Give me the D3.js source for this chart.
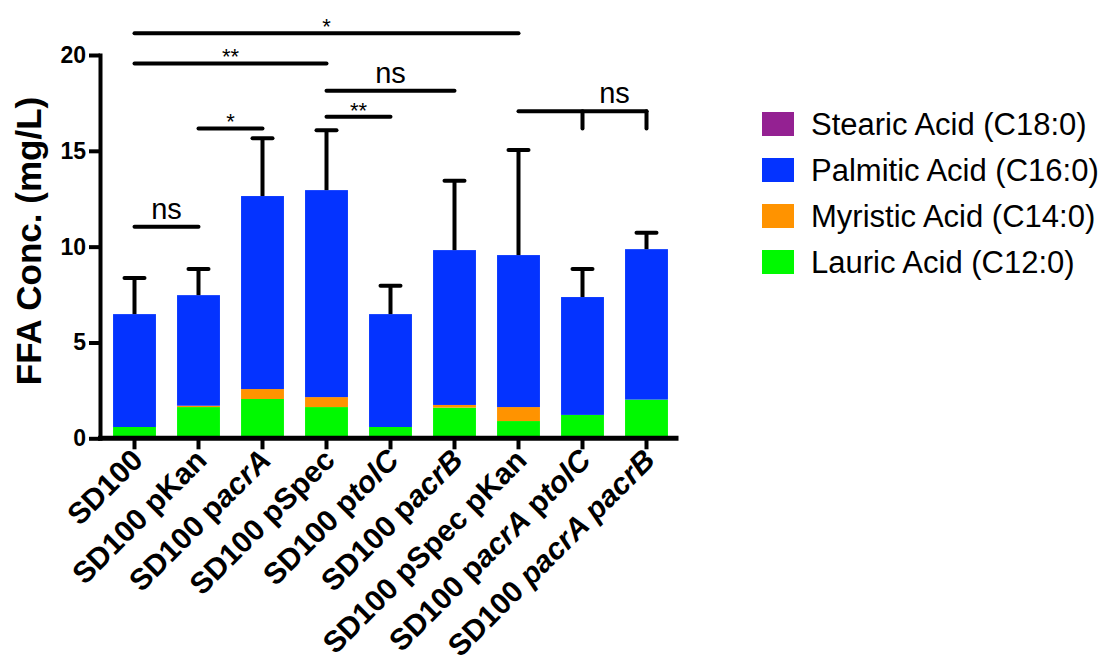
<!DOCTYPE html>
<html>
<head>
<meta charset="utf-8">
<script src="https://cdn.jsdelivr.net/npm/d3@7"></script>
<style>
  body { margin: 0; background: #fff; }
  text { font-family: Arial, "Liberation Sans", sans-serif; fill: #000; }
</style>
</head>
<body>
<svg id="chart" width="1109" height="664"></svg>
<script>
// Strains (category order along the x axis)
const strains = [
  "SD100", "SD100 pKan", "SD100 pacrA", "SD100 pSpec", "SD100 ptolC",
  "SD100 pacrB", "SD100 pSpec pKan", "SD100 pacrA ptolC", "SD100 pacrA pacrB"
];
// Label pieces: [text, italic?]
const strainLabelParts = [
  [["SD100", false]],
  [["SD100 pKan", false]],
  [["SD100 p", false], ["acrA", true]],
  [["SD100 pSpec", false]],
  [["SD100 p", false], ["tolC", true]],
  [["SD100 p", false], ["acrB", true]],
  [["SD100 pSpec pKan", false]],
  [["SD100 p", false], ["acrA", true], [" p", false], ["tolC", true]],
  [["SD100 ", false], ["pacrA pacrB", true]]
];

// Free fatty acid concentrations (mg/L), mean per strain
const lauric   = [0.59, 1.63, 2.05, 1.63, 0.59, 1.60, 0.90, 1.22, 2.02];
const myristic = [0.00, 0.07, 0.52, 0.52, 0.00, 0.14, 0.73, 0.00, 0.00];
const palmitic = [5.89, 5.77, 10.07, 10.80, 5.89, 8.08, 7.93, 6.15, 7.85];
const stearic  = [0.00, 0.00, 0.00, 0.00, 0.00, 0.00, 0.00, 0.00, 0.00];
// Standard deviation of total FFA
const totalSD  = [1.88, 1.36, 3.01, 3.12, 1.48, 3.62, 5.48, 1.46, 0.86];

const yTicks = [0, 5, 10, 15, 20];

const seriesKeys   = ["lauric", "myristic", "palmitic", "stearic"];
const seriesNames  = ["Lauric Acid (C12:0)", "Myristic Acid (C14:0)", "Palmitic Acid (C16:0)", "Stearic Acid (C18:0)"];
const seriesColors = ["#00F900", "#FF9300", "#0433FF", "#942192"];

// Significance comparisons (indices into strains, bracket height in mg/L)
const comparisons = [
  { from: 0, to: 1, level: 11.04, label: "ns" },
  { from: 1, to: 2, level: 16.17, label: "*" },
  { from: 3, to: 4, level: 16.78, label: "**" },
  { from: 3, to: 5, level: 18.13, label: "ns" },
  { from: 0, to: 3, level: 19.56, label: "**" },
  { from: 0, to: 6, level: 21.13, label: "*" },
  { from: 6, to: 8, level: 17.07, label: "ns", drops: [7, 8], dropLevel: 16.17 }
];

const rows = strains.map((s, i) => ({
  strain: s, lauric: lauric[i], myristic: myristic[i], palmitic: palmitic[i], stearic: stearic[i]
}));

const svg = d3.select("#chart");

const x = d3.scaleBand()
  .domain(strains)
  .range([102.5, 678.5])
  .paddingInner(0.33)
  .paddingOuter(0.165);

const y = d3.scaleLinear().domain([0, 20]).range([438.3, 55]);

const color = d3.scaleOrdinal().domain(seriesKeys).range(seriesColors);

const stacked = d3.stack().keys(seriesKeys)(rows);

// Stacked bars
svg.append("g").selectAll("g")
  .data(stacked)
  .join("g")
  .attr("fill", d => color(d.key))
  .selectAll("rect")
  .data(d => d)
  .join("rect")
  .attr("x", d => x(d.data.strain))
  .attr("width", x.bandwidth())
  .attr("y", d => y(d[1]))
  .attr("height", d => Math.max(0, y(d[0]) - y(d[1])));

// Error bars (upper only)
const totals = rows.map((r, i) => lauric[i] + myristic[i] + palmitic[i] + stearic[i]);
const eb = svg.append("g").attr("stroke", "#000").attr("stroke-width", 4);
strains.forEach((s, i) => {
  const cx = x(s) + x.bandwidth() / 2;
  eb.append("line")
    .attr("x1", cx).attr("x2", cx)
    .attr("y1", y(totals[i])).attr("y2", y(totals[i] + totalSD[i]));
  eb.append("line")
    .attr("x1", cx - 10).attr("x2", cx + 10)
    .attr("y1", y(totals[i] + totalSD[i])).attr("y2", y(totals[i] + totalSD[i]))
    .attr("stroke-linecap", "round");
});

// Y axis
const yAxis = svg.append("g")
  .attr("transform", "translate(100,0)")
  .call(d3.axisLeft(y).tickValues(yTicks).tickSize(11).tickSizeOuter(0).tickPadding(3));
yAxis.select(".domain").attr("stroke-width", 4).attr("stroke-linecap", "square");
yAxis.selectAll(".tick line").attr("stroke-width", 4);
yAxis.selectAll(".tick text")
  .style("font-family", "Arial, 'Liberation Sans', sans-serif")
  .style("font-weight", "bold")
  .style("font-size", "23px")
  .attr("fill", "#000");

// X axis
const xAxis = svg.append("g")
  .attr("transform", `translate(0,${y(0)})`)
  .call(d3.axisBottom(x).tickSize(11).tickSizeOuter(0).tickFormat(""));
xAxis.select(".domain").remove();
xAxis.selectAll(".tick line").attr("stroke-width", 4);
svg.append("line")
  .attr("x1", 98).attr("x2", 678.5)
  .attr("y1", y(0)).attr("y2", y(0))
  .attr("stroke", "#000").attr("stroke-width", 5);

// Rotated category labels
strains.forEach((s, i) => {
  const cx = x(s) + x.bandwidth() / 2;
  const t = svg.append("text")
    .attr("transform", `translate(${cx + 10},${462}) rotate(-45)`)
    .attr("text-anchor", "end")
    .style("font-weight", "bold")
    .style("font-size", "30px");
  strainLabelParts[i].forEach(([txt, it]) => {
    t.append("tspan").text(txt).style("font-style", it ? "italic" : "normal");
  });
});

// Y axis title
svg.append("text")
  .attr("transform", `translate(41,241) rotate(-90)`)
  .attr("text-anchor", "middle")
  .style("font-weight", "bold")
  .style("font-size", "35px")
  .text("FFA Conc. (mg/L)");

// Significance brackets
const br = svg.append("g");
const cxOf = i => x(strains[i]) + x.bandwidth() / 2;
comparisons.forEach(c => {
  const ly = y(c.level);
  br.append("line")
    .attr("x1", cxOf(c.from)).attr("x2", cxOf(c.to))
    .attr("y1", ly).attr("y2", ly)
    .attr("stroke", "#000").attr("stroke-width", 4).attr("stroke-linecap", "round");
  let tx = (cxOf(c.from) + cxOf(c.to)) / 2;
  if (c.drops) {
    c.drops.forEach(d => {
      br.append("line")
        .attr("x1", cxOf(d)).attr("x2", cxOf(d))
        .attr("y1", ly).attr("y2", y(c.dropLevel))
        .attr("stroke", "#000").attr("stroke-width", 4).attr("stroke-linecap", "round");
    });
    tx = (cxOf(c.drops[0]) + cxOf(c.drops[c.drops.length - 1])) / 2;
  }
  const isStar = c.label.startsWith("*");
  br.append("text")
    .attr("x", tx)
    .attr("y", isStar ? ly + 1 : ly - 8)
    .attr("text-anchor", "middle")
    .style("font-size", isStar ? "22px" : "29px")
    .text(c.label);
});

// Legend (top to bottom: stearic, palmitic, myristic, lauric)
const legendOrder = seriesKeys.map((k, i) => ({ key: k, name: seriesNames[i] })).reverse();
const lg = svg.append("g").attr("transform", "translate(762,112)");
legendOrder.forEach((d, i) => {
  lg.append("rect")
    .attr("x", 0).attr("y", i * 46)
    .attr("width", 32).attr("height", 24)
    .attr("fill", color(d.key));
  lg.append("text")
    .attr("x", 49).attr("y", i * 46 + 12)
    .attr("dy", "0.35em")
    .style("font-size", "31px")
    .text(d.name);
});
</script>
</body>
</html>
